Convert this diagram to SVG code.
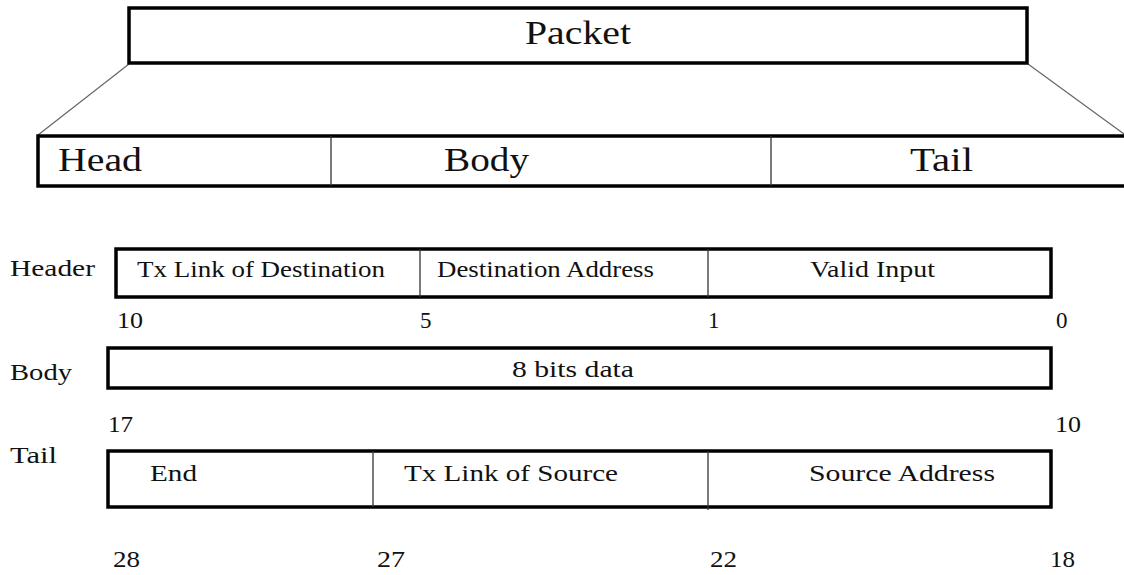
<svg xmlns="http://www.w3.org/2000/svg" width="1124" height="575" viewBox="0 0 1124 575">
  <style>
    .frame { fill: #fff; stroke: #000; stroke-width: 3.5; }
    .div { stroke: #333; stroke-width: 1.3; fill: none; }
    .link { stroke: #666; stroke-width: 1.2; fill: none; }
    text { font-family: "Liberation Serif", "Times New Roman", serif; fill: #111; }
    .big { font-size: 33px; }
    .mid { font-size: 23px; }
    .num { font-size: 23px; }
  </style>
  <rect width="1124" height="575" fill="#fff"/>

  <!-- expansion lines from the packet to its three parts -->
  <g id="connectors">
    <line class="link" x1="129" y1="64" x2="38" y2="135"/>
    <line class="link" x1="1028" y1="64" x2="1124" y2="134"/>
  </g>

  <g id="packet">
    <rect class="frame" x="129" y="8" width="898" height="55"/>
    <text class="big" x="525" y="44" textLength="106" lengthAdjust="spacingAndGlyphs">Packet</text>
  </g>

  <g id="packet-parts">
    <rect class="frame" x="38" y="136" width="1090" height="50"/>
    <line class="div" x1="331" y1="136" x2="331" y2="186"/>
    <line class="div" x1="771" y1="136" x2="771" y2="186"/>
    <text class="big" x="58" y="171" textLength="84" lengthAdjust="spacingAndGlyphs">Head</text>
    <text class="big" x="444" y="171" textLength="85" lengthAdjust="spacingAndGlyphs">Body</text>
    <text class="big" x="910" y="171" textLength="63" lengthAdjust="spacingAndGlyphs">Tail</text>
  </g>

  <!-- header flit layout -->
  <g id="header-flit">
    <text class="mid" x="10" y="276" textLength="85" lengthAdjust="spacingAndGlyphs">Header</text>
    <rect class="frame" x="116" y="249" width="935" height="48"/>
    <line class="div" x1="420" y1="249" x2="420" y2="297"/>
    <line class="div" x1="708" y1="249" x2="708" y2="297"/>
    <text class="mid" x="137" y="277" textLength="248" lengthAdjust="spacingAndGlyphs">Tx Link of Destination</text>
    <text class="mid" x="437" y="277" textLength="217" lengthAdjust="spacingAndGlyphs">Destination Address</text>
    <text class="mid" x="810" y="277" textLength="125" lengthAdjust="spacingAndGlyphs">Valid Input</text>
    <text class="num" x="117" y="328" textLength="26" lengthAdjust="spacingAndGlyphs">10</text>
    <text class="num" x="420" y="328">5</text>
    <text class="num" x="708" y="328">1</text>
    <text class="num" x="1056" y="328">0</text>
  </g>

  <!-- body flit layout -->
  <g id="body-flit">
    <text class="mid" x="10" y="380" textLength="62" lengthAdjust="spacingAndGlyphs">Body</text>
    <rect class="frame" x="108" y="348" width="943" height="40"/>
    <text class="mid" x="512" y="377" textLength="122" lengthAdjust="spacingAndGlyphs">8 bits data</text>
    <text class="num" x="108" y="432" textLength="25" lengthAdjust="spacingAndGlyphs">17</text>
    <text class="num" x="1055" y="432" textLength="26" lengthAdjust="spacingAndGlyphs">10</text>
  </g>

  <!-- tail flit layout -->
  <g id="tail-flit">
    <text class="mid" x="10" y="463" textLength="47" lengthAdjust="spacingAndGlyphs">Tail</text>
    <rect class="frame" x="108" y="451" width="943" height="56"/>
    <line class="div" x1="373" y1="451" x2="373" y2="507"/>
    <line class="div" x1="708" y1="451" x2="708" y2="510"/>
    <text class="mid" x="150" y="481" textLength="47" lengthAdjust="spacingAndGlyphs">End</text>
    <text class="mid" x="404" y="481" textLength="214" lengthAdjust="spacingAndGlyphs">Tx Link of Source</text>
    <text class="mid" x="809" y="481" textLength="186" lengthAdjust="spacingAndGlyphs">Source Address</text>
    <text class="num" x="113" y="567" textLength="27" lengthAdjust="spacingAndGlyphs">28</text>
    <text class="num" x="377" y="567" textLength="28" lengthAdjust="spacingAndGlyphs">27</text>
    <text class="num" x="710" y="567" textLength="27" lengthAdjust="spacingAndGlyphs">22</text>
    <text class="num" x="1050" y="567" textLength="25" lengthAdjust="spacingAndGlyphs">18</text>
  </g>
</svg>
